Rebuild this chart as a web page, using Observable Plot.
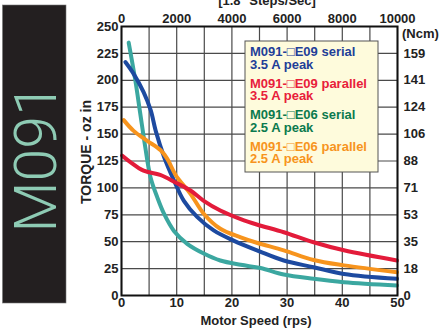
<!DOCTYPE html>
<html><head><meta charset="utf-8">
<script src="https://cdn.jsdelivr.net/npm/d3@7"></script>
<script src="https://cdn.jsdelivr.net/npm/@observablehq/plot@0.6"></script>
<style>body{margin:0;background:#fff} svg{display:block}</style>
</head><body><div id="chart"></div>
<script>
// Motor speed (rps) and torque (oz-in) per curve
const e06SerialSpeed = [1.3, 2.5, 3.4, 4.3, 5.25, 6.5, 7.7, 9.5, 11.9, 14.9, 17.9, 21.6, 25.2, 29.4, 34.8, 40.3, 49.9];
const e06SerialTorque = [235, 200, 169, 138, 110, 91, 76, 60, 48, 39, 32.5, 28.5, 25.5, 19.5, 15.5, 12.4, 9.3];
const e09SerialSpeed = [0.7, 2.2, 4, 5.3, 6.2, 7.7, 9.5, 11.3, 13.7, 16.7, 20.3, 25, 29.4, 34.8, 40.3, 49.9];
const e09SerialTorque = [217, 206, 189, 172, 153, 129, 107, 88, 73, 60.5, 51, 41, 32.5, 26.3, 20, 15.5];
const e06ParallelSpeed = [0.4, 2.2, 4.6, 7.1, 8.3, 9.8, 12.5, 14.9, 17.9, 21.6, 24.5, 29.4, 34.8, 40.3, 49.9];
const e06ParallelTorque = [163, 153, 144, 135, 127, 112, 94.5, 76, 62, 54, 49, 42, 33, 28, 21.7];
const e09ParallelSpeed = [0.1, 1.6, 4, 7, 9.8, 12.5, 14.9, 17.9, 21.6, 24.5, 29.4, 34.8, 40.3, 49.9];
const e09ParallelTorque = [130, 124, 116, 112, 105, 97.6, 88, 79, 71, 66, 58.8, 49.5, 42, 32.5];

// tick values / labels
const torqueTicks = [0, 25, 50, 75, 100, 125, 150, 175, 200, 225, 250];
const ncmTicks = [0, 25, 50, 75, 100, 125, 150, 175, 200, 225];
const ncmLabels = ["0", "18", "35", "53", "71", "88", "106", "124", "141", "159"];
const speedTicks = [0, 10, 20, 30, 40, 50];
const stepsLabels = ["0", "2000", "4000", "6000", "8000", "10000"];
const gridSpeeds = [0, 5, 10, 15, 20, 25, 30, 35, 40, 45, 50];

const legendLines = [
  ["M091-\u25A1E09 serial", "3.5 A peak"],
  ["M091-\u25A1E09 parallel", "3.5 A peak"],
  ["M091-\u25A1E06 serial", "2.5 A peak"],
  ["M091-\u25A1E06 parallel", "2.5 A peak"]
];
const legendColors = ["#1f3f98", "#e8203a", "#0b7a4e", "#f7941d"];

const curves = [
  {name: "E06 serial", speed: e06SerialSpeed, torque: e06SerialTorque, color: "#3ba7a0"},
  {name: "E09 serial", speed: e09SerialSpeed, torque: e09SerialTorque, color: "#1d4aa0"},
  {name: "E06 parallel", speed: e06ParallelSpeed, torque: e06ParallelTorque, color: "#f7941d"},
  {name: "E09 parallel", speed: e09ParallelSpeed, torque: e09ParallelTorque, color: "#e31b3a"}
];
const rows = curves.flatMap(c => c.speed.map((s, i) => ({series: c.name, speed: s, torque: c.torque[i]})));

const font = "'Liberation Sans', Arial, sans-serif";

const chart = Plot.plot({
  width: 440, height: 331,
  marginLeft: 121, marginRight: 43, marginTop: 26, marginBottom: 36,
  style: {fontFamily: font, fontSize: "13px", fontWeight: "bold", color: "#222", background: "#fff"},
  x: {domain: [0, 50]},
  y: {domain: [0, 250]},
  color: {domain: curves.map(c => c.name), range: curves.map(c => c.color)},
  marks: [
    Plot.ruleX(gridSpeeds, {stroke: "#4a4a4a", strokeWidth: 1.2}),
    Plot.ruleY(torqueTicks, {stroke: "#4a4a4a", strokeWidth: 1.2}),
    Plot.axisY({ticks: torqueTicks, tickSize: 0, tickPadding: 3, label: null}),
    Plot.axisY({anchor: "right", ticks: ncmTicks, tickSize: 0, tickPadding: 6, label: null,
      tickFormat: d => ncmLabels[ncmTicks.indexOf(d)]}),
    Plot.axisX({ticks: speedTicks, tickSize: 0, tickPadding: 2, label: null}),
    Plot.axisX({anchor: "top", ticks: speedTicks, tickSize: 0, tickPadding: 4, label: null,
      tickFormat: d => stepsLabels[speedTicks.indexOf(d)]}),
    Plot.line(rows, {x: "speed", y: "torque", z: "series", stroke: "series", strokeWidth: 4, curve: "catmull-rom"}),
    Plot.frame({stroke: "#111", strokeWidth: 2})
  ]
});

const svg = d3.select(chart);
// left black panel
svg.append("rect").attr("x", 2.5).attr("y", 5).attr("width", 63.5).attr("height", 298)
  .attr("fill", "#231f20").attr("stroke", "#777").attr("stroke-width", 0.6);
svg.append("text").text("M091")
  .attr("transform", "translate(56,158) rotate(-90)")
  .attr("text-anchor", "middle")
  .attr("fill", "#8ecbb4")
  .style("font-family", "Roboto, Inter, sans-serif").style("font-weight", "300").style("font-size", "59px");
// axis titles
svg.append("text").text("TORQUE - oz in")
  .attr("transform", "translate(91,152) rotate(-90)")
  .attr("text-anchor", "middle").attr("fill", "#222")
  .style("font-family", font).style("font-weight", "bold").style("font-size", "14px");
svg.append("text").text("Motor Speed (rps)")
  .attr("x", 256).attr("y", 325).attr("text-anchor", "middle").attr("fill", "#222")
  .style("font-family", font).style("font-weight", "bold").style("font-size", "13px");
svg.append("text").text("[1.8\u00B0 Steps/Sec]")
  .attr("x", 267).attr("y", 5).attr("text-anchor", "middle").attr("fill", "#222")
  .style("font-family", font).style("font-weight", "bold").style("font-size", "13px");
svg.append("text").text("(Ncm)")
  .attr("x", 402).attr("y", 38).attr("text-anchor", "start").attr("fill", "#222")
  .style("font-family", font).style("font-weight", "bold").style("font-size", "13px");
// legend
const lg = svg.append("g");
lg.append("rect").attr("x", 245).attr("y", 41).attr("width", 133).attr("height", 131)
  .attr("fill", "#fefbdc").attr("stroke", "#555").attr("stroke-width", 1);
legendLines.forEach((pair, i) => {
  pair.forEach((t, j) => {
    lg.append("text").text(t)
      .attr("x", 250).attr("y", 56 + i * 31.5 + j * 12.5)
      .attr("text-anchor", "start")
      .attr("fill", legendColors[i])
      .style("font-family", font).style("font-weight", "bold").style("font-size", "13px");
  });
});
document.getElementById("chart").appendChild(chart);
</script>
</body></html>
